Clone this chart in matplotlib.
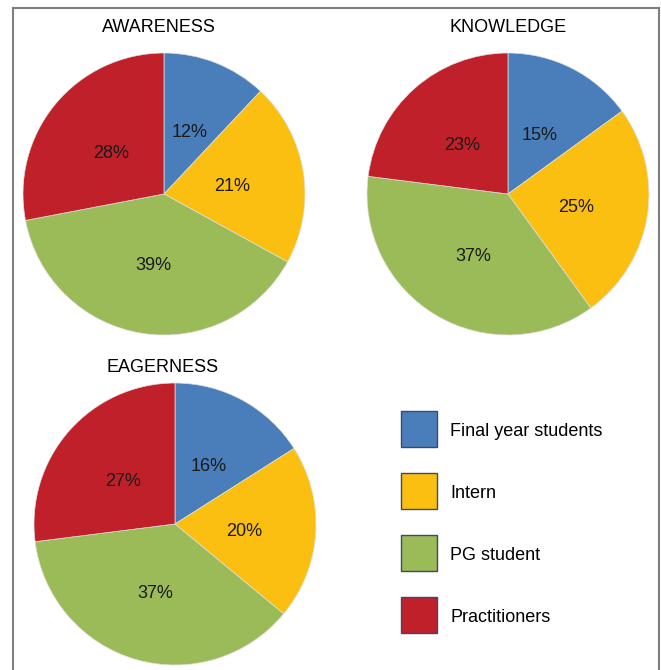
import matplotlib
matplotlib.use('Agg')
import matplotlib.pyplot as plt
from matplotlib.patches import Rectangle
from matplotlib.lines import Line2D

plt.rcParams['font.family'] = ['Liberation Sans', 'DejaVu Sans']

groups = ['Final year students', 'Intern', 'PG student', 'Practitioners']
colors = ['#4A7EBB', '#FBBF12', '#9BBB59', '#C0202A']

awareness = [12, 21, 39, 28]
knowledge = [15, 25, 37, 23]
eagerness = [16, 20, 37, 27]

W, H = 661, 670
fig = plt.figure(figsize=(W / 100, H / 100), dpi=100)

# outer frame (bottom edge runs off the page)
fc = '#7f7f7f'
fig.add_artist(Line2D([13 / W, 13 / W], [0, 1 - 8 / H], color=fc, lw=1.5))
fig.add_artist(Line2D([13 / W, 659 / W], [1 - 8 / H, 1 - 8 / H], color=fc, lw=1.5))
fig.add_artist(Line2D([659 / W, 659 / W], [0, 1 - 8 / H], color=fc, lw=1.5))

r = 141


def draw_pie(cx, cy, values, title, tx, ty):
    ax = fig.add_axes([(cx - r) / W, 1 - (cy + r) / H, 2 * r / W, 2 * r / H])
    _, _, pct = ax.pie(values, colors=colors, startangle=90, counterclock=False,
                       autopct='%d%%', pctdistance=0.49,
                       wedgeprops=dict(linewidth=0.5, edgecolor='#e0e0e0'),
                       textprops=dict(fontsize=13, color='#1a1a1a'))
    for t in pct:
        x, y = t.get_position()
        t.set_position((x, y - 0.022))
    ax.set_xlim(-1, 1)
    ax.set_ylim(-1, 1)
    ax.set_aspect('auto')
    fig.text(tx / W, 1 - ty / H, title, ha='center', va='center', fontsize=13)


draw_pie(164, 194, awareness, 'AWARENESS', 159, 27)
draw_pie(508, 194, knowledge, 'KNOWLEDGE', 508, 27)
draw_pie(175, 524, eagerness, 'EAGERNESS', 163, 367)

# legend drawn in pixel space
lax = fig.add_axes([0, 0, 1, 1])
lax.set_xlim(0, W)
lax.set_ylim(H, 0)
lax.axis('off')
for i, (g, c) in enumerate(zip(groups, colors)):
    top = 411 + 62 * i
    lax.add_patch(Rectangle((401, top), 36, 36, facecolor=c,
                            edgecolor='#3b4a66', linewidth=1))
    lax.text(450, top + 21, g, ha='left', va='center', fontsize=13)

fig.savefig('out.png', dpi=100)
